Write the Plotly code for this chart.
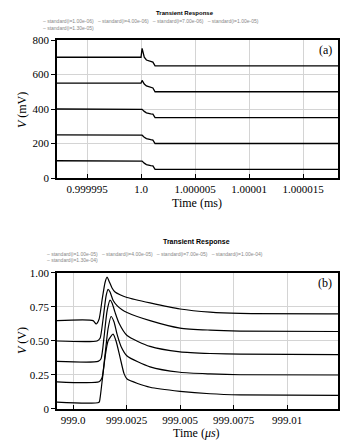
import plotly.graph_objects as go
from plotly.subplots import make_subplots

# ---------------- Data: panel (a) (Time in ms, V in mV) ----------------
names_a = ["standard(i=1.00e-06)", "standard(i=4.00e-06)", "standard(i=7.00e-06)",
           "standard(i=1.00e-05)", "standard(i=1.30e-05)"]
t_a = [0.99999222, 1.0, 1.0000001, 1.0000003, 1.0000005, 1.0000009, 1.0000011, 1.0000013, 1.00001824]
va1 = [700, 700, 752, 700, 684, 676, 672, 650, 650]
va2 = [550, 550, 566, 545, 534, 526, 522, 500, 500]
va3 = [400, 400, 398, 386, 378, 372, 370, 350, 350]
va4 = [250, 250, 248, 236, 228, 222, 220, 200, 200]
va5 = [100, 100, 98, 86, 78, 72, 70, 50, 50]
tickvals_a = [0.999995, 1.0, 1.000005, 1.00001, 1.000015]
ticktext_a = ["0.999995", "1.0", "1.000005", "1.00001", "1.000015"]
yticks_a = [0, 200, 400, 600, 800]

# ---------------- Data: panel (b) (Time in us, V in V) ----------------
names_b = ["standard(i=1.00e-05)", "standard(i=4.00e-05)", "standard(i=7.00e-05)",
           "standard(i=1.00e-04)", "standard(i=1.30e-04)"]
tb1 = [998.99925, 999.000935, 999.001075, 999.001215, 999.001355, 999.001495, 999.001589,
       999.001682, 999.001822, 999.001963, 999.002196, 999.002523, 999.003598, 999.005,
       999.006402, 999.007804, 999.012383]
vb1 = [0.65, 0.65, 0.625, 0.66, 0.80, 0.93, 0.97, 0.94, 0.89, 0.86, 0.84, 0.82, 0.78, 0.735,
       0.712, 0.703, 0.70]
tb2 = [998.99925, 999.001121, 999.001262, 999.001402, 999.001542, 999.001636, 999.001729,
       999.001869, 999.002056, 999.002290, 999.002523, 999.003598, 999.005, 999.006402,
       999.007804, 999.012383]
vb2 = [0.50, 0.50, 0.52, 0.66, 0.83, 0.88, 0.86, 0.80, 0.76, 0.73, 0.71, 0.65, 0.595, 0.58,
       0.573, 0.57]
tb3 = [998.99925, 999.001168, 999.001308, 999.001449, 999.001589, 999.001729, 999.001822,
       999.001963, 999.002150, 999.002523, 999.003598, 999.005, 999.006402, 999.007804,
       999.012383]
vb3 = [0.35, 0.35, 0.37, 0.53, 0.72, 0.80, 0.78, 0.71, 0.63, 0.54, 0.46, 0.42, 0.408, 0.403,
       0.40]
tb4 = [998.99925, 999.001215, 999.001355, 999.001495, 999.001636, 999.001776, 999.001916,
       999.002056, 999.002243, 999.002523, 999.003598, 999.005, 999.006402, 999.007804,
       999.012383]
vb4 = [0.20, 0.20, 0.23, 0.40, 0.59, 0.68, 0.64, 0.55, 0.46, 0.39, 0.31, 0.27, 0.258, 0.252,
       0.25]
tb5 = [998.99925, 999.001215, 999.001262, 999.001355, 999.001495, 999.001636, 999.001869,
       999.002009, 999.002196, 999.002383, 999.002523, 999.003598, 999.005, 999.006402,
       999.007804, 999.012383]
vb5 = [0.05, 0.05, 0.08, 0.20, 0.38, 0.50, 0.55, 0.50, 0.38, 0.26, 0.22, 0.16, 0.13, 0.112,
       0.104, 0.10]
tickvals_b = [999.0, 999.0025, 999.005, 999.0075, 999.01]
ticktext_b = ["999.0", "999.0025", "999.005", "999.0075", "999.01"]
yticks_b = [0, 0.25, 0.5, 0.75, 1.0]
yticktext_b = ["0", "0.25", "0.50", "0.75", "1.00"]

# ---------------- Figure ----------------
fig = make_subplots(rows=2, cols=1)

series_a = [va1, va2, va3, va4, va5]
for name, v in zip(names_a, series_a):
    fig.add_trace(go.Scatter(x=t_a, y=v, mode="lines", name=name, showlegend=False,
                             line=dict(color="black", width=1.3)), row=1, col=1)

series_b = [(tb1, vb1), (tb2, vb2), (tb3, vb3), (tb4, vb4), (tb5, vb5)]
for name, (t, v) in zip(names_b, series_b):
    fig.add_trace(go.Scatter(x=t, y=v, mode="lines", name=name, showlegend=False,
                             line=dict(color="black", width=1.2, shape="spline", smoothing=0.6)),
                  row=2, col=1)

serif = "Liberation Serif"
axis_common = dict(showline=True, mirror=True, linecolor="black", linewidth=1.5,
                   showgrid=True, gridcolor="#d4d4d4", gridwidth=1, zeroline=False,
                   automargin=False,
                   tickfont=dict(family=serif, size=11, color="black"),
                   ticklen=4, tickcolor="black")

# page body has an 8px margin, so the figure is 8px smaller and margins shifted
fig.update_layout(
    width=352, height=439,
    margin=dict(l=49, r=22, t=32, b=38, autoexpand=False),
    paper_bgcolor="white", plot_bgcolor="white",
    showlegend=False,
    xaxis=dict(domain=[0, 1], range=[0.99999222, 1.00001824], tickvals=tickvals_a,
               ticktext=ticktext_a, ticks="inside", **axis_common),
    yaxis=dict(domain=[0.626, 1], range=[0, 800], tickvals=yticks_a, ticks="outside",
               **axis_common),
    xaxis2=dict(domain=[0, 1], range=[998.99925, 999.01238], tickvals=tickvals_b,
                ticktext=ticktext_b, ticks="inside", **axis_common),
    yaxis2=dict(domain=[0, 0.3686], range=[0, 1.0], tickvals=yticks_b,
                ticktext=yticktext_b, ticks="outside", **axis_common),
)

ann = []
def add(text, x, y, size, family=serif, color="black", xanchor="center", textangle=0, bold=False):
    ann.append(dict(text=("<b>%s</b>" % text) if bold else text, x=x, y=y,
                    xref="paper", yref="paper", showarrow=False, xanchor=xanchor,
                    yanchor="middle", textangle=textangle,
                    font=dict(family=family, size=size, color=color)))

# titles
add("Transient Response", 0.456, 1.073, 6, family="Liberation Sans", bold=True)
add("Transient Response", 0.498, 0.4526, 7, family="Liberation Sans", bold=True)
# legends as text
leg_a1 = "   ".join("– " + n for n in names_a[:4])
leg_a2 = "– " + names_a[4]
leg_b1 = "   ".join("– " + n for n in names_b[:4])
leg_b2 = "– " + names_b[4]
add(leg_a1, -0.057, 1.0515, 5, family="Liberation Sans", color="#888888", xanchor="left")
add(leg_a2, -0.057, 1.0325, 5, family="Liberation Sans", color="#888888", xanchor="left")
add(leg_b1, -0.043, 0.420, 5, family="Liberation Sans", color="#888888", xanchor="left")
add(leg_b2, -0.043, 0.4038, 5, family="Liberation Sans", color="#888888", xanchor="left")
# axis titles
add("Time (ms)", 0.498, 0.558, 12)
add("Time (<i>μs</i>)", 0.498, -0.066, 12)
add("<i>V</i> (mV)", -0.1246, 0.81, 12, textangle=-90)
add("<i>V</i> (V)", -0.1246, 0.187, 12, textangle=-90)
# panel labels
add("(a)", 0.954, 0.973, 12)
add("(b)", 0.954, 0.3415, 12)

fig.update_layout(annotations=ann)
fig.write_html("out.html")
